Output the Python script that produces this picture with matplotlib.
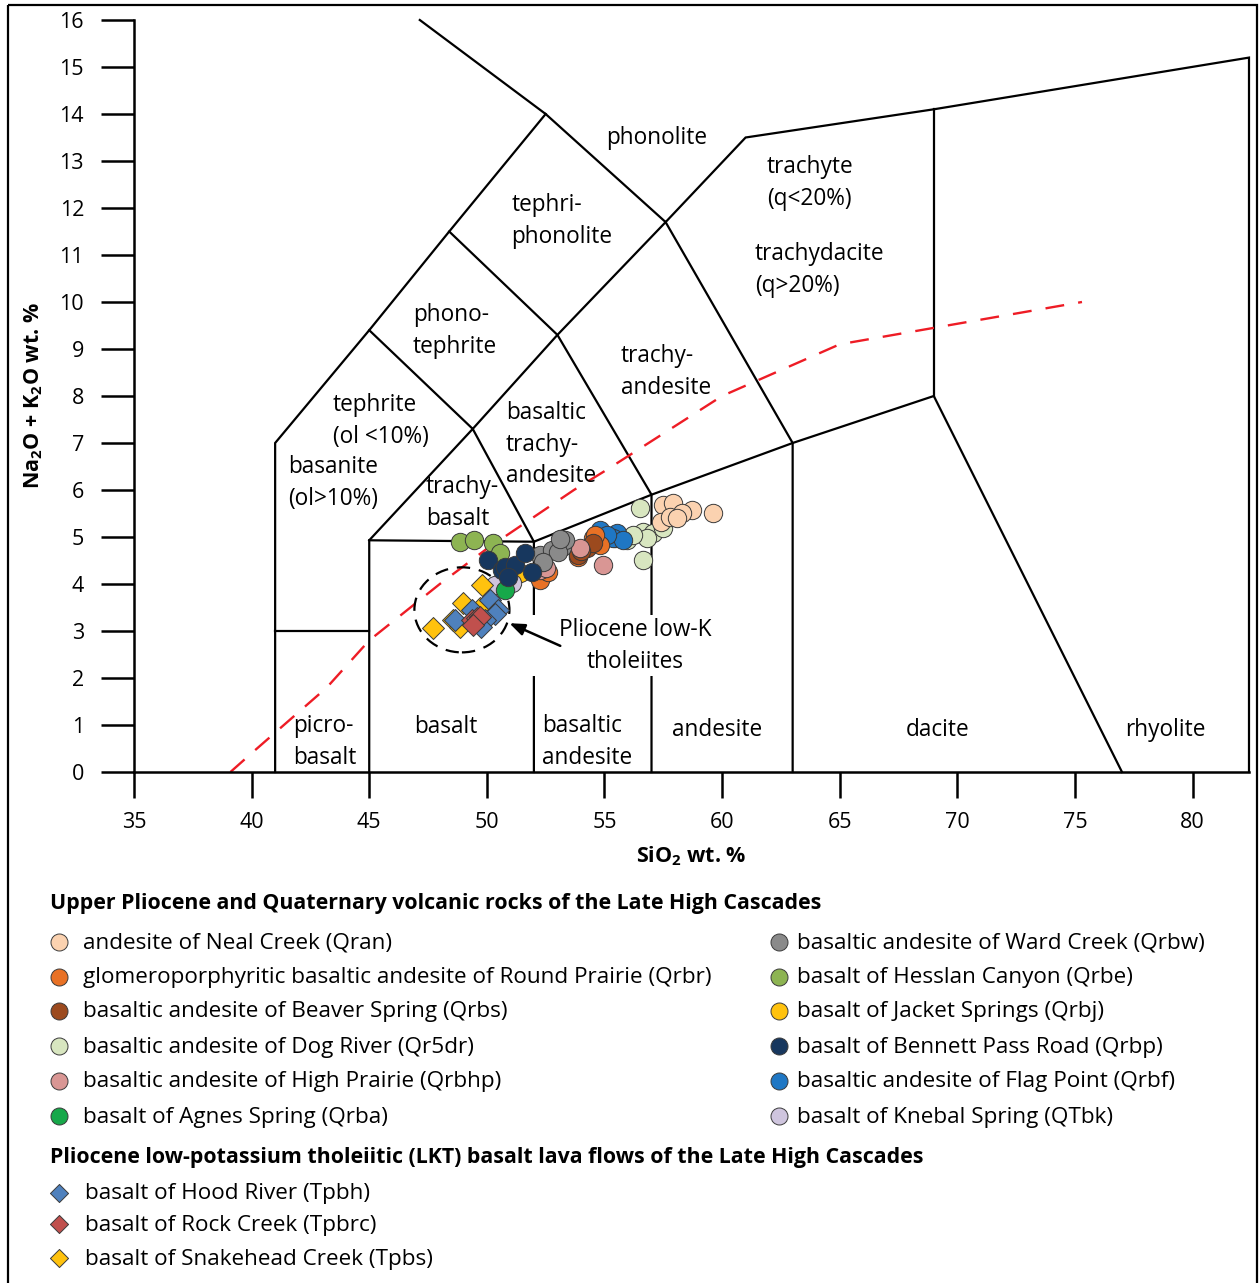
import matplotlib
matplotlib.use("Agg")
import matplotlib.pyplot as plt
from matplotlib.patches import Ellipse, Rectangle

plt.rcParams['font.family'] = ['Open Sans', 'DejaVu Sans']
plt.rcParams['mathtext.fontset'] = 'custom'
plt.rcParams['mathtext.rm'] = 'Open Sans'
plt.rcParams['mathtext.bf'] = 'Open Sans:bold'

# ---------------- data (SiO2, Na2O+K2O) ----------------
neal_x = [57.5, 57.9, 58.7, 59.6, 57.4, 57.8, 58.3, 58.1]
neal_y = [5.68, 5.72, 5.57, 5.51, 5.32, 5.43, 5.51, 5.40]
dog_x = [56.5, 56.63, 57.06, 55.95, 56.63, 57.48, 56.8, 56.2]
dog_y = [5.62, 5.11, 5.09, 4.94, 4.51, 5.19, 4.98, 5.05]
flag_x = [54.8, 55.44, 55.53, 55.36, 55.78, 55.1]
flag_y = [5.15, 4.98, 5.09, 4.98, 4.94, 5.05]
round_x = [54.51, 54.8, 53.87, 52.25, 54.6, 52.6]
round_y = [4.98, 4.83, 4.57, 4.09, 5.05, 4.25]
beaver_x = [54.25, 53.87, 54.51, 54.0]
beaver_y = [4.77, 4.62, 4.87, 4.70]
high_x = [53.95, 54.93, 52.25, 52.5]
high_y = [4.77, 4.40, 4.30, 4.35]
ward_x = [52.25, 52.76, 53.19, 53.32, 53.02, 52.38, 53.1]
ward_y = [4.62, 4.72, 4.79, 4.94, 4.68, 4.47, 4.95]
hesslan_x = [48.85, 49.44, 50.26, 50.55]
hesslan_y = [4.89, 4.94, 4.87, 4.66]
jacket_x = [51.4]
jacket_y = [4.23]
knebal_x = [50.34, 51.06]
knebal_y = [3.98, 4.02]
agnes_x = [50.77]
agnes_y = [3.87]
bennett_x = [50.04, 50.64, 50.77, 51.19, 51.62, 51.91, 50.89]
bennett_y = [4.51, 4.30, 4.36, 4.40, 4.66, 4.26, 4.15]
hood_x = [50.13, 50.47, 50.34, 49.92, 49.75, 49.36, 48.64]
hood_y = [3.66, 3.45, 3.36, 3.23, 3.09, 3.45, 3.23]
rock_x = [49.36, 49.58, 49.7, 49.41]
rock_y = [3.23, 3.28, 3.30, 3.13]
snake_x = [49.79, 48.98, 48.56, 48.85, 47.7, 49.7]
snake_y = [3.98, 3.60, 3.23, 3.09, 3.06, 3.49]

# alkaline / subalkaline divide (red dashed)
div_x = [39.1, 40, 43.2, 45, 48, 50, 53.7, 55, 60, 65, 75.3]
div_y = [0, 0.4, 1.8, 2.8, 4, 4.75, 6, 6.4, 8, 9.1, 10.0]

# TAS field boundaries
tas_lines = [
    [(41, 0), (41, 7), (45, 9.4), (48.4, 11.5), (52.5, 14), (47.15, 16.0)],
    [(41, 3), (45, 3)],
    [(45, 0), (45, 4.93), (52, 4.9)],
    [(45, 4.93), (49.4, 7.3), (52, 4.9)],
    [(52, 0), (52, 4.9), (57, 5.9), (63, 7), (69, 8), (77, 0)],
    [(57, 0), (57, 5.9), (53, 9.3), (57.6, 11.7), (63, 7), (63, 0)],
    [(45, 9.4), (49.4, 7.3), (53, 9.3), (48.4, 11.5)],
    [(52.5, 14), (57.6, 11.7), (61, 13.5), (69, 14.1), (82.4, 15.2), (82.4, 0)],
    [(69, 8), (69, 14.1)],
]

field_labels = [
    ("phonolite", 57.2, 13.5, 'center'),
    ("tephri-\nphonolite", 51.05, 11.72, 'left'),
    ("trachyte\n(q<20%)", 61.9, 12.53, 'left'),
    ("trachydacite\n(q>20%)", 61.4, 10.68, 'left'),
    ("phono-\ntephrite", 46.85, 9.38, 'left'),
    ("trachy-\nandesite", 55.7, 8.51, 'left'),
    ("basaltic\ntrachy-\nandesite", 50.8, 6.96, 'left'),
    ("tephrite\n(ol <10%)", 43.45, 7.47, 'left'),
    ("basanite\n(ol>10%)", 41.55, 6.15, 'left'),
    ("trachy-\nbasalt", 47.4, 5.72, 'left'),
    ("picro-\nbasalt", 41.75, 0.64, 'left'),
    ("basalt", 48.26, 0.96, 'center'),
    ("basaltic\nandesite", 52.35, 0.64, 'left'),
    ("andesite", 59.78, 0.89, 'center'),
    ("dacite", 69.17, 0.89, 'center'),
    ("rhyolite", 78.86, 0.89, 'center'),
]

x_ticks = [35, 40, 45, 50, 55, 60, 65, 70, 75, 80]
y_ticks = list(range(0, 17))

circle_series = [
    ("andesite of Neal Creek (Qran)", '#FBD2B0', neal_x, neal_y),
    ("glomeroporphyritic basaltic andesite of Round Prairie (Qrbr)", '#E87125', round_x, round_y),
    ("basaltic andesite of Beaver Spring (Qrbs)", '#9C4A1E', beaver_x, beaver_y),
    ("basaltic andesite of Dog River (Qr5dr)", '#D8E6C0', dog_x, dog_y),
    ("basaltic andesite of High Prairie (Qrbhp)", '#D99694', high_x, high_y),
    ("basalt of Agnes Spring (Qrba)", '#17A84A', agnes_x, agnes_y),
    ("basaltic andesite of Ward Creek (Qrbw)", '#8A8A8A', ward_x, ward_y),
    ("basalt of Hesslan Canyon (Qrbe)", '#8DB452', hesslan_x, hesslan_y),
    ("basalt of Jacket Springs (Qrbj)", '#FFC20E', jacket_x, jacket_y),
    ("basalt of Bennett Pass Road (Qrbp)", '#17375E', bennett_x, bennett_y),
    ("basaltic andesite of Flag Point (Qrbf)", '#1F77C4', flag_x, flag_y),
    ("basalt of Knebal Spring (QTbk)", '#CFC5DE', knebal_x, knebal_y),
]
diamond_series = [
    ("basalt of Hood River (Tpbh)", '#4F81BD', hood_x, hood_y),
    ("basalt of Rock Creek (Tpbrc)", '#C0504D', rock_x, rock_y),
    ("basalt of Snakehead Creek (Tpbs)", '#FFC20E', snake_x, snake_y),
]
# drawing order of circle groups (index into circle_series)
draw_order = [3, 0, 10, 1, 2, 4, 6, 8, 7, 11, 5, 9]

W, H = 1259, 1283
fig = plt.figure(figsize=(W / 100, H / 100), dpi=100)

# main axes: x 35..82.4 at px 134..1249, y 0..16 at px 772..20
ax = fig.add_axes([134 / W, (H - 772) / H, (1249 - 134) / W, (772 - 20) / H])
ax.set_xlim(35, 82.4)
ax.set_ylim(0, 16)
for s in ['top', 'right']:
    ax.spines[s].set_visible(False)
for s in ['left', 'bottom']:
    ax.spines[s].set_linewidth(1.8)
ax.set_xticks(x_ticks)
ax.set_yticks(y_ticks)
ax.tick_params(axis='y', direction='out', length=24, width=1.8, pad=12, labelsize=15.5)
ax.tick_params(axis='x', direction='out', length=19, width=1.8, pad=10, labelsize=15.5)
ax.set_xlabel(r"SiO$\mathbf{_2}$ wt. %", fontsize=15.5, fontweight='bold', labelpad=8)
ax.set_ylabel(r"Na$\mathbf{_2}$O + K$\mathbf{_2}$O wt. %", fontsize=15.5, fontweight='bold', labelpad=10)

for line in tas_lines:
    xs = [p[0] for p in line]
    ys = [p[1] for p in line]
    ax.plot(xs, ys, color='black', lw=1.6, zorder=2, clip_on=False, solid_joinstyle='miter')

ax.plot(div_x, div_y, color='#EE1C25', lw=1.7, dashes=(8, 6), zorder=2.5)

for txt, x, y, ha in field_labels:
    ax.text(x, y, txt, ha=ha, va='center', fontsize=16.3, linespacing=1.42, zorder=3)

# white box behind annotation
ax.add_patch(Rectangle((51.8, 2.04), 7.9, 1.3, facecolor='white', edgecolor='none', zorder=2.8))
ax.text(56.3, 2.68, "Pliocene low-K\ntholeiites", ha='center', va='center', fontsize=16.3,
        linespacing=1.42, zorder=3)
ax.annotate("", xy=(50.85, 3.19), xytext=(53.23, 2.66),
            arrowprops=dict(arrowstyle='-|>,head_length=0.9,head_width=0.35', color='black', lw=1.8),
            zorder=6)
ax.add_patch(Ellipse((48.94, 3.45), 4.04, 1.81, fill=False, edgecolor='black', lw=1.6,
                     linestyle=(0, (6, 4)), zorder=2.6))

for i in draw_order:
    lab, col, xs, ys = circle_series[i]
    ax.scatter(xs, ys, s=175, marker='o', facecolor=col, edgecolor='#3A3A3A', linewidths=0.7, zorder=4)
for lab, col, xs, ys in [diamond_series[2], diamond_series[0], diamond_series[1]]:
    ax.scatter(xs, ys, s=125, marker='D', facecolor=col, edgecolor='#3A3A3A', linewidths=0.7, zorder=5)

# ---------------- legend / frame in pixel space ----------------
lax = fig.add_axes([0, 0, 1, 1], zorder=10)
lax.set_xlim(0, W)
lax.set_ylim(H, 0)
lax.axis('off')
lax.patch.set_alpha(0)
lax.add_patch(Rectangle((8, 5), 1249, 1300, fill=False, edgecolor='black', lw=1.6))

lax.text(50, 904, "Upper Pliocene and Quaternary volcanic rocks of the Late High Cascades",
         fontsize=15.4, fontweight='bold', va='center', ha='left')
row_y = [943, 978, 1012, 1047, 1082, 1117]
for k, (lab, col, xs, ys) in enumerate(circle_series):
    col_i, row_i = divmod(k, 6)
    mx = 59 if col_i == 0 else 779
    tx = 83 if col_i == 0 else 797
    lax.scatter([mx], [row_y[row_i] - 1], s=150, marker='o', facecolor=col, edgecolor='#3A3A3A', linewidths=0.7)
    lax.text(tx, row_y[row_i], lab, fontsize=16.2, va='center', ha='left')

lax.text(50, 1158, "Pliocene low-potassium tholeiitic (LKT) basalt lava flows of the Late High Cascades",
         fontsize=15.4, fontweight='bold', va='center', ha='left')
drow_y = [1194, 1225, 1259]
for k, (lab, col, xs, ys) in enumerate(diamond_series):
    lax.scatter([59], [drow_y[k] - 1], s=85, marker='D', facecolor=col, edgecolor='#3A3A3A', linewidths=0.7)
    lax.text(85, drow_y[k], lab, fontsize=16.2, va='center', ha='left')

fig.savefig("out.png", dpi=100)
